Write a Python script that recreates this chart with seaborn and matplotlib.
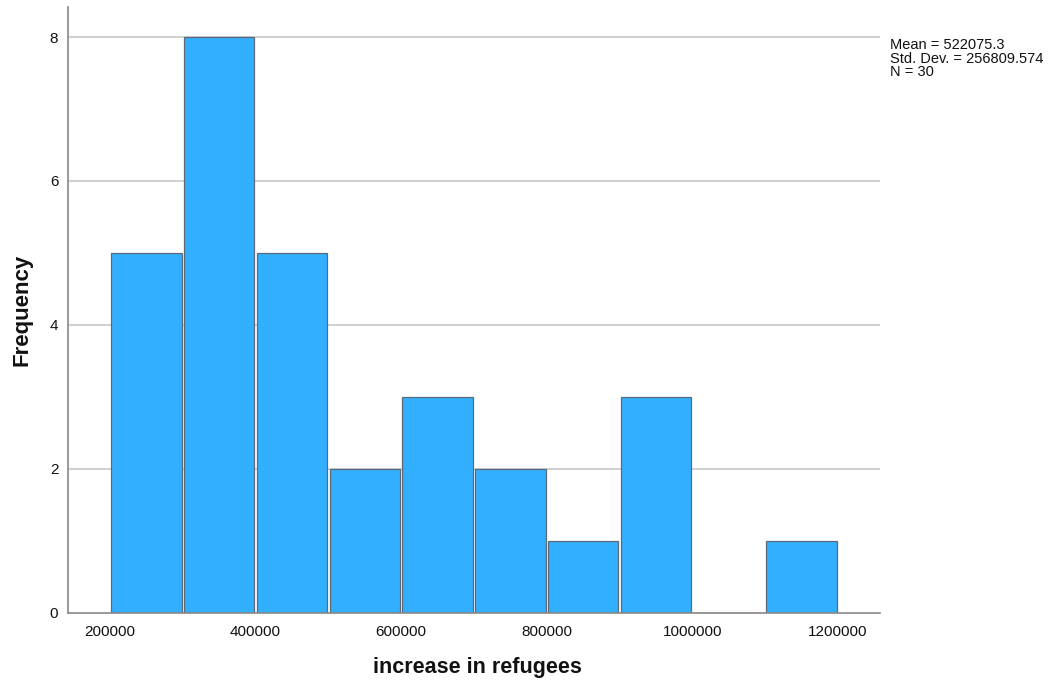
import matplotlib
matplotlib.use("Agg")
import matplotlib.pyplot as plt
import seaborn as sns
import numpy as np

bin_edges = [200000, 300000, 400000, 500000, 600000, 700000, 800000, 900000, 1000000, 1100000, 1200000]
counts = [5, 8, 5, 2, 3, 2, 1, 3, 0, 1]
x_ticks = [200000, 400000, 600000, 800000, 1000000, 1200000]
y_ticks = [0, 2, 4, 6, 8]
stats_lines = ["Mean = 522075.3", "Std. Dev. = 256809.574", "N = 30"]

centers = [(a + b) / 2 for a, b in zip(bin_edges[:-1], bin_edges[1:])]

sns.set_style("white")
plt.rcParams['font.family'] = ['Liberation Sans', 'DejaVu Sans']
plt.rcParams['text.color'] = '#111111'
plt.rcParams['axes.labelcolor'] = '#111111'
plt.rcParams['xtick.color'] = '#111111'
plt.rcParams['ytick.color'] = '#111111'

fig = plt.figure(figsize=(10.51, 6.82), dpi=100)
ax = fig.add_axes([68/1051, 1 - 612.7/682, (880-68)/1051, (612.7-7)/682])

for yv in y_ticks[1:]:
    ax.axhline(yv, color='#c8c8c8', lw=1.2, zorder=0)

sns.histplot(x=centers, weights=counts, bins=bin_edges, ax=ax,
             color='#33AFFF', alpha=1.0, edgecolor='#5a6a78', linewidth=0.9,
             shrink=0.965, zorder=2)

ax.set_xlim(142300, 1257700)
ax.set_ylim(0, 8.417)
ax.set_xticks(x_ticks)
ax.set_xticklabels([str(v) for v in x_ticks], fontsize=11)
ax.set_yticks(y_ticks)
ax.set_yticklabels([str(v) for v in y_ticks], fontsize=11)
ax.tick_params(axis='x', length=0, pad=9)
ax.tick_params(axis='y', length=0, pad=7)

for s in ['top', 'right']:
    ax.spines[s].set_visible(False)
for s in ['left', 'bottom']:
    ax.spines[s].set_color('#888888')
    ax.spines[s].set_linewidth(1.2)

ax.set_xlabel("increase in refugees", fontsize=15.5, fontweight='bold')
ax.set_ylabel("Frequency", fontsize=16, fontweight='bold')
ax.xaxis.set_label_coords((477-68)/(880-68), -(667-612.7)/(612.7-7))
ax.yaxis.set_label_coords(-(68-22)/(880-68), (612.7-310)/(612.7-7))
ax.xaxis.label.set_va('center')
ax.yaxis.label.set_va('center')

fig.text(890/1051, 1 - 38/682, "\n".join(stats_lines), fontsize=10.5, va='top', ha='left',
         linespacing=0.97)

fig.savefig("out.png", dpi=100)
